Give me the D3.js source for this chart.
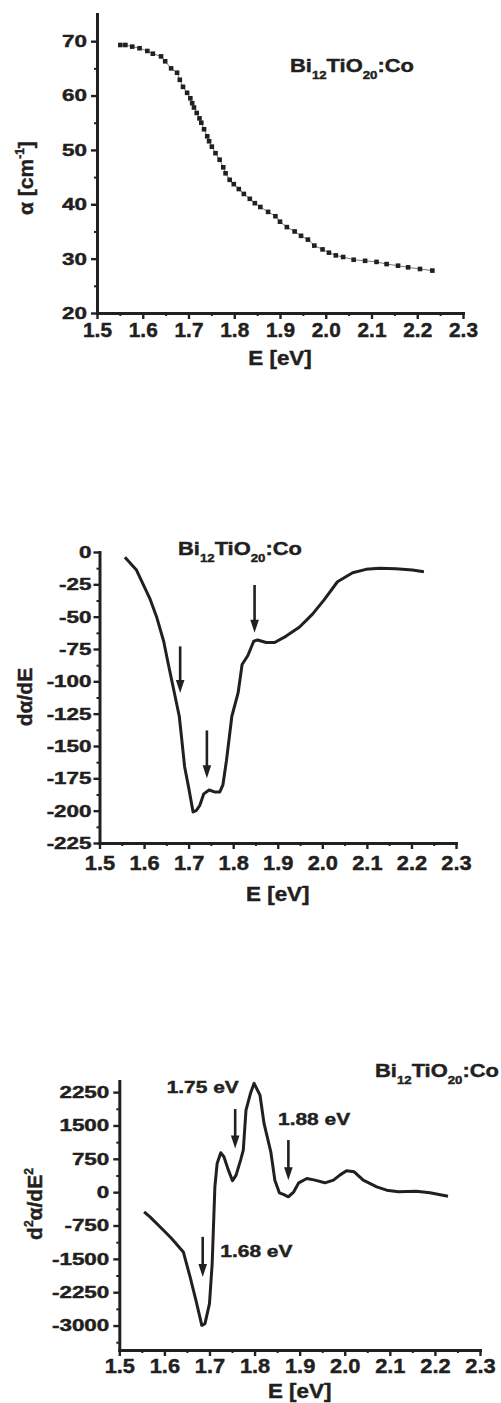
<!DOCTYPE html>
<html>
<head>
<meta charset="utf-8">
<script src="https://cdn.jsdelivr.net/npm/d3@7"></script>
<style>
  body { margin: 0; background: #fff; }
  svg { display: block; }
  text { font-family: "Liberation Sans", Arial, sans-serif; font-weight: bold; fill: #231f20;
         stroke: #231f20; stroke-width: 0.45px; }
</style>
</head>
<body>
<svg id="chart" width="501" height="1403"></svg>
<script>
// ---- data ----
const eTicks = [1.5, 1.6, 1.7, 1.8, 1.9, 2.0, 2.1, 2.2, 2.3];
const eMinor = [1.55, 1.65, 1.75, 1.85, 1.95, 2.05, 2.15, 2.25];

// absorption coefficient
const energyA = [1.551,1.562,1.577,1.593,1.610,1.622,1.640,1.649,1.662,1.675,1.681,1.688,1.697,1.704,1.708,1.712,1.718,1.724,1.728,1.734,1.741,1.745,1.751,1.759,1.768,1.776,1.781,1.790,1.799,1.810,1.821,1.834,1.845,1.857,1.874,1.890,1.900,1.915,1.932,1.946,1.961,1.975,1.993,2.007,2.022,2.038,2.061,2.086,2.111,2.133,2.158,2.180,2.206,2.233];
const alphaA = [69.3,69.3,69.0,68.7,68.2,67.7,67.2,66.3,65.0,64.2,62.9,61.6,60.5,59.5,58.6,57.8,56.8,55.8,55.0,53.8,52.5,51.6,50.6,49.4,48.2,46.8,45.7,44.5,43.7,42.8,41.9,41.0,40.2,39.5,38.6,37.8,36.8,35.8,35.0,34.2,33.5,32.4,31.7,31.1,30.6,30.3,29.8,29.6,29.4,29.0,28.7,28.4,28.1,27.8];
const alphaTicks = [20, 30, 40, 50, 60, 70];
const alphaMinor = [25, 35, 45, 55, 65];

// first derivative
const energyD1 = [1.557,1.583,1.613,1.628,1.644,1.654,1.665,1.679,1.684,1.691,1.700,1.710,1.717,1.725,1.734,1.746,1.758,1.770,1.777,1.785,1.797,1.811,1.820,1.833,1.846,1.855,1.874,1.893,1.919,1.949,1.978,2.004,2.034,2.068,2.098,2.128,2.165,2.202,2.228];
const dAlpha = [-4,-14,-36,-50,-69,-86,-104,-127,-143,-166,-182,-201,-200,-196,-187,-184,-185.5,-185.5,-180,-161,-127,-109,-87,-80,-69,-68,-70,-70,-65,-58,-48,-37,-23,-16,-13.4,-12.6,-12.9,-13.9,-15.2];
const d1Ticks = [-225,-200,-175,-150,-125,-100,-75,-50,-25,0];
const d1Minor = [-212.5,-187.5,-162.5,-137.5,-112.5,-87.5,-62.5,-37.5,-12.5];
const d1Arrows = [
  { e: 1.681, from: -73, to: -109 },
  { e: 1.741, from: -138, to: -175 },
  { e: 1.848, from: -25.5, to: -62.5 }
];

// second derivative
const energyD2 = [1.555,1.568,1.598,1.616,1.642,1.657,1.670,1.683,1.690,1.700,1.706,1.712,1.717,1.725,1.732,1.742,1.751,1.759,1.769,1.775,1.781,1.791,1.799,1.812,1.821,1.836,1.845,1.855,1.864,1.875,1.887,1.898,1.916,1.934,1.956,1.975,1.989,2.004,2.021,2.041,2.071,2.093,2.119,2.159,2.189,2.229];
const d2Alpha = [-443,-556,-856,-1043,-1344,-1907,-2432,-2995,-2957,-2506,-1606,120,646,886,796,495,255,383,721,946,1847,2223,2448,2184,1547,908,270,-15,-52,-105,7,210,308,270,210,270,383,480,457,270,120,45,7,22,-15,-90];
const d2Ticks = [-3000,-2250,-1500,-750,0,750,1500,2250];
const d2Minor = [-3375,-2625,-1875,-1125,-375,375,1125,1875];
const d2Arrows = [
  { e: 1.685, from: -1006, to: -1907 },
  { e: 1.757, from: 1869, to: 984 },
  { e: 1.875, from: 1171, to: 270 }
];
const d2Notes = [
  { text: "1.68 eV", e: 1.724, v: -1457 },
  { text: "1.75 eV", e: 1.605, v: 2230 },
  { text: "1.88 eV", e: 1.852, v: 1509 }
];

// ---- drawing ----
const ink = "#231f20";
const svg = d3.select("#chart");

function stretchX(sel, k) {
  sel.each(function () {
    const t = d3.select(this);
    const x = +t.attr("x") || 0;
    t.attr("transform", "translate(" + x + ",0) scale(" + k + ",1) translate(" + (-x) + ",0)");
  });
}

function fitWidth(sel, w) {
  const bw = sel.node().getBBox().width;
  const x = +sel.attr("x");
  sel.attr("transform", "translate(" + x + ",0) scale(" + (w / bw) + ",1) translate(" + (-x) + ",0)");
}

function axes(x, y, o) {
  const x0 = x.range()[0], y0 = y.range()[0];

  svg.append("g").attr("transform", "translate(0," + y0 + ")").attr("color", ink)
    .call(d3.axisBottom(x).tickValues(eMinor).tickSize(3).tickFormat(""))
    .call(g => g.select(".domain").remove())
    .selectAll("line").attr("stroke-width", 2);
  svg.append("g").attr("transform", "translate(" + x0 + ",0)").attr("color", ink)
    .call(d3.axisLeft(y).tickValues(o.yMinor).tickSize(3).tickFormat(""))
    .call(g => g.select(".domain").remove())
    .selectAll("line").attr("stroke-width", 2);

  const gx = svg.append("g").attr("transform", "translate(0," + y0 + ")")
    .call(d3.axisBottom(x).tickValues(eTicks).tickSize(6).tickSizeOuter(0)
      .tickPadding(o.xPad).tickFormat(d3.format(".1f")))
    .attr("color", ink).attr("font-size", o.xFont);
  gx.selectAll(".tick line").attr("stroke-width", 2.4);
  gx.select(".domain").attr("stroke-width", 3).attr("stroke-linecap", "square");
  stretchX(gx.selectAll("text"), 1.04);

  const gy = svg.append("g").attr("transform", "translate(" + x0 + ",0)")
    .call(d3.axisLeft(y).tickValues(o.yTicks).tickSize(6).tickSizeOuter(0)
      .tickPadding(o.yPad).tickFormat(d => String(d)))
    .attr("color", ink).attr("font-size", 17);
  gy.selectAll(".tick line").attr("stroke-width", 2.4);
  gy.select(".domain").attr("stroke-width", 3).attr("stroke-linecap", "square");
  stretchX(gy.selectAll("text"), 1.32);

  svg.append("text")
    .attr("x", (x.range()[0] + x.range()[1]) / 2).attr("y", o.xLabelY)
    .attr("text-anchor", "middle").attr("font-size", 20)
    .text("E [eV]")
    .call(stretchX, 1.12);
}

function title(x, y) {
  const t = svg.append("text").attr("x", x).attr("y", y).attr("font-size", 19);
  t.append("tspan").text("Bi");
  t.append("tspan").attr("font-size", 11.5).attr("dy", 7).text("12");
  t.append("tspan").attr("dy", -7).text("TiO");
  t.append("tspan").attr("font-size", 11.5).attr("dy", 7).text("20");
  t.append("tspan").attr("dy", -7).text(":Co");
  fitWidth(t, 124);
}

function arrows(x, y, list) {
  const g = svg.append("g");
  list.forEach(a => {
    const ax = x(a.e), y1 = y(a.from), y2 = y(a.to);
    g.append("line").attr("x1", ax).attr("x2", ax).attr("y1", y1).attr("y2", y2 - 10)
      .attr("stroke", ink).attr("stroke-width", 2.6);
    g.append("path")
      .attr("d", "M" + (ax - 4.3) + "," + (y2 - 13) + "L" + (ax + 4.3) + "," + (y2 - 13) + "L" + ax + "," + y2 + "Z")
      .attr("fill", ink);
  });
}

// ---- panel 1: alpha ----
const x1 = d3.scaleLinear().domain([1.5, 2.3]).range([97, 463]);
const y1 = d3.scaleLinear().domain([20, 75]).range([313, 14]);
axes(x1, y1, { yTicks: alphaTicks, yMinor: alphaMinor, xPad: 4, xFont: 20, yPad: 4, xLabelY: 365 });

svg.append("path")
  .datum(energyA.map((e, i) => [e, alphaA[i]]))
  .attr("fill", "none").attr("stroke", "#555").attr("stroke-width", 0.8)
  .attr("d", d3.line().x(d => x1(d[0])).y(d => y1(d[1])));
svg.append("g").selectAll("rect")
  .data(energyA.map((e, i) => [e, alphaA[i]]))
  .join("rect")
  .attr("x", d => x1(d[0]) - 2.3).attr("y", d => y1(d[1]) - 2.3)
  .attr("width", 4.6).attr("height", 4.6).attr("fill", ink);

svg.append("g").attr("transform", "translate(33,178) rotate(-90)")
  .append("text").attr("text-anchor", "middle").attr("font-size", 21)
  .call(t => {
    t.append("tspan").text("\u03b1 [cm");
    t.append("tspan").attr("font-size", 12).attr("dy", -9).text("-1");
    t.append("tspan").attr("dy", 9).text("]");
  });
title(290, 72);

// ---- panel 2: first derivative ----
const x2 = d3.scaleLinear().domain([1.5, 2.3]).range([99.5, 456]);
const y2 = d3.scaleLinear().domain([-225, 0]).range([843, 552]);
axes(x2, y2, { yTicks: d1Ticks, yMinor: d1Minor, xPad: 6, xFont: 21, yPad: 2, xLabelY: 901 });

svg.append("path")
  .datum(energyD1.map((e, i) => [e, dAlpha[i]]))
  .attr("fill", "none").attr("stroke", ink).attr("stroke-width", 3)
  .attr("stroke-linejoin", "round")
  .attr("d", d3.line().x(d => x2(d[0])).y(d => y2(d[1])));
arrows(x2, y2, d1Arrows);

svg.append("g").attr("transform", "translate(32,697) rotate(-90)")
  .append("text").attr("text-anchor", "middle").attr("font-size", 21)
  .text("d\u03b1/dE");
title(178, 555);

// ---- panel 3: second derivative ----
const x3 = d3.scaleLinear().domain([1.5, 2.3]).range([119.3, 480]);
const y3 = d3.scaleLinear().domain([-3550, 2500]).range([1350, 1081]);
axes(x3, y3, { yTicks: d2Ticks, yMinor: d2Minor, xPad: 2.5, xFont: 21, yPad: 4, xLabelY: 1398 });

svg.append("path")
  .datum(energyD2.map((e, i) => [e, d2Alpha[i]]))
  .attr("fill", "none").attr("stroke", ink).attr("stroke-width", 3)
  .attr("stroke-linejoin", "round")
  .attr("d", d3.line().x(d => x3(d[0])).y(d => y3(d[1])));
arrows(x3, y3, d2Arrows);

d2Notes.forEach(n => {
  const t = svg.append("text").attr("x", x3(n.e)).attr("y", y3(n.v))
    .attr("font-size", 17).text(n.text);
  fitWidth(t, 73);
});

svg.append("g").attr("transform", "translate(42,1204) rotate(-90)")
  .append("text").attr("text-anchor", "middle").attr("font-size", 21)
  .call(t => {
    t.append("tspan").text("d");
    t.append("tspan").attr("font-size", 12).attr("dy", -9).text("2");
    t.append("tspan").attr("dy", 9).text("\u03b1/dE");
    t.append("tspan").attr("font-size", 12).attr("dy", -9).text("2");
  });
title(375, 1077);
</script>
</body>
</html>
